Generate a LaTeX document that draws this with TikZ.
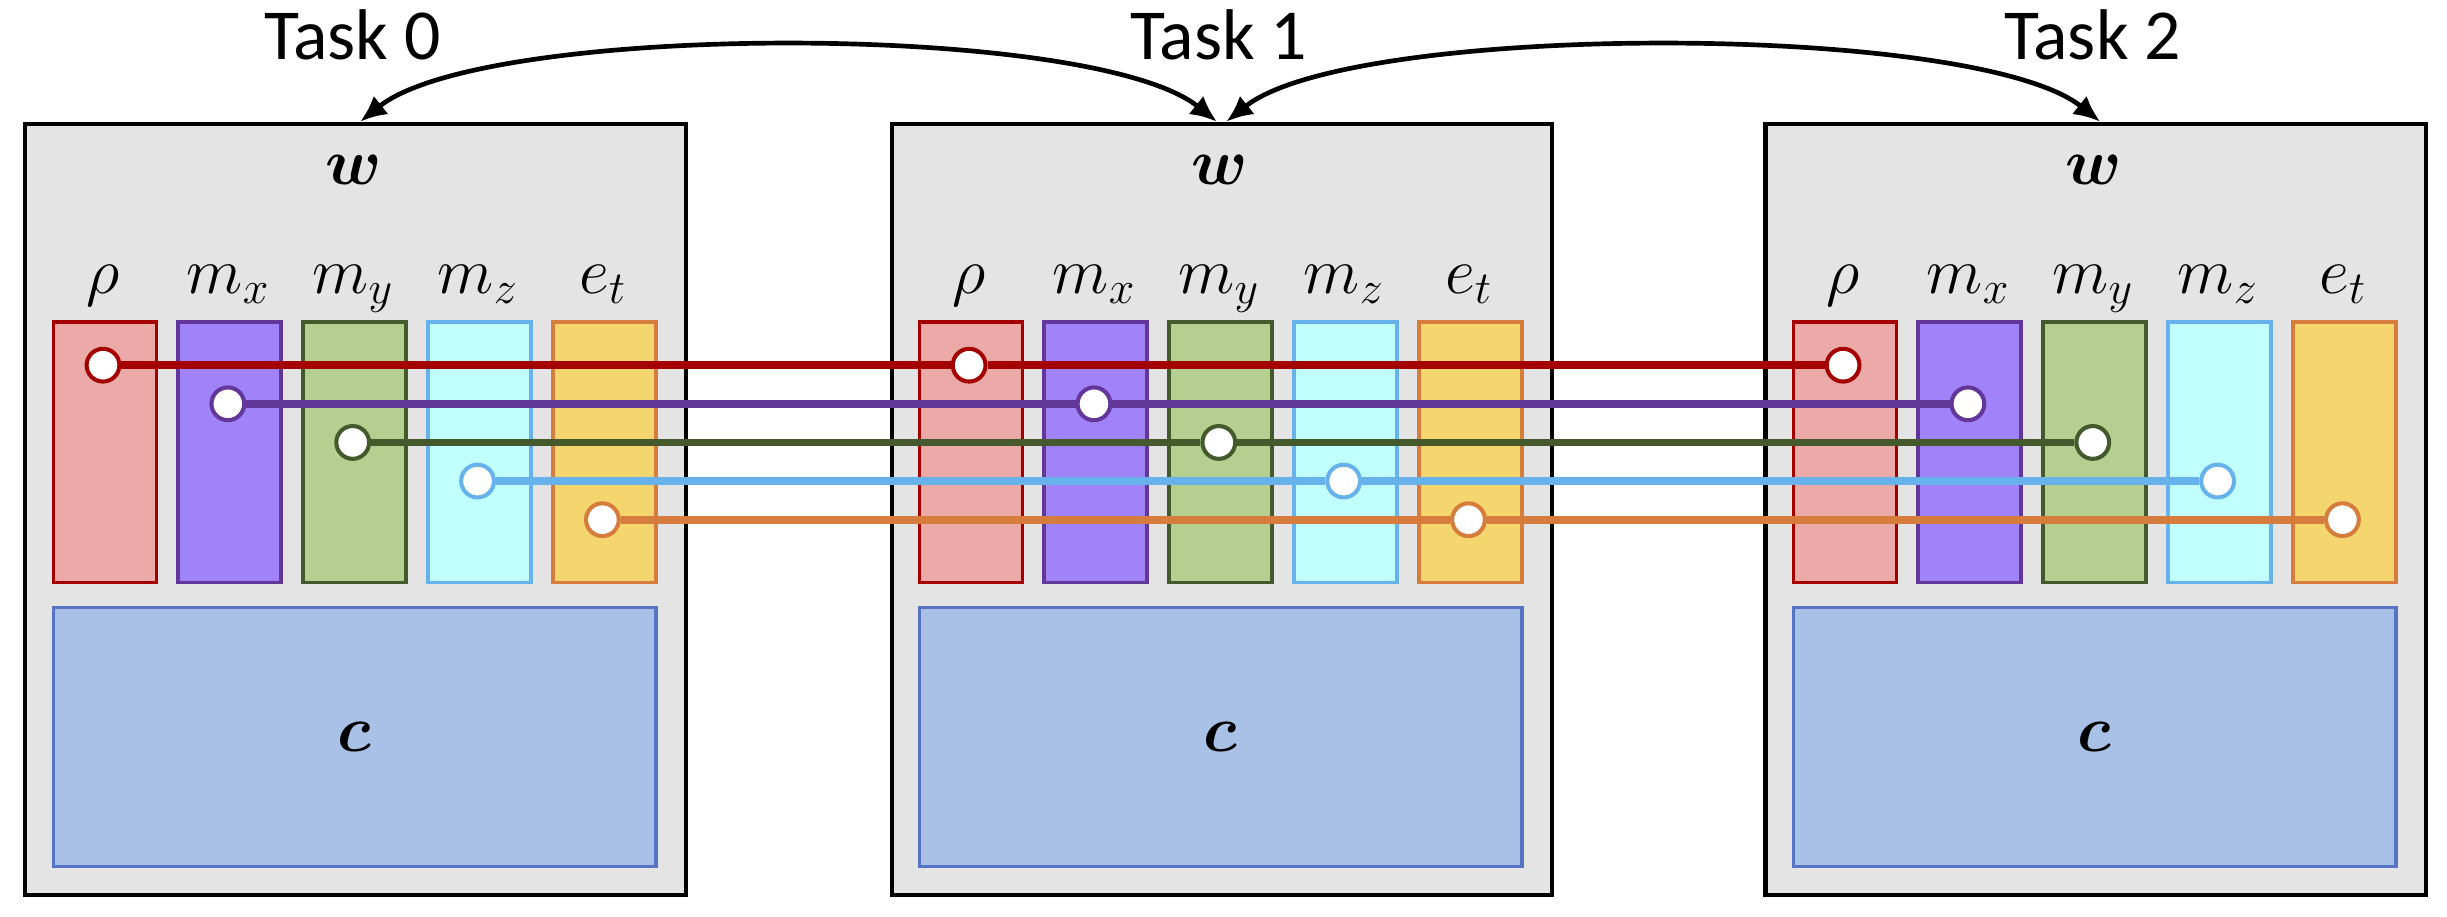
\RequirePackage{fix-cm}
\documentclass[tikz,border=0pt]{standalone}
\usepackage{amsmath,bm}
\usepackage{fontspec}
\setmainfont{Carlito}
\usetikzlibrary{arrows.meta}
\definecolor{boxgray}{HTML}{E4E4E4}
\definecolor{rfill}{HTML}{EBAAA8}\definecolor{rdraw}{HTML}{A50000}
\definecolor{xfill}{HTML}{A082F9}\definecolor{xdraw}{HTML}{63379A}
\definecolor{yfill}{HTML}{B4CF8F}\definecolor{ydraw}{HTML}{445A2C}
\definecolor{zfill}{HTML}{C1FFFF}\definecolor{zdraw}{HTML}{68B2EC}
\definecolor{efill}{HTML}{F5D66E}\definecolor{edraw}{HTML}{D67C3C}
\definecolor{cfill}{HTML}{A9C1E6}\definecolor{cdraw}{HTML}{5674C4}
\newcommand\taskfont{\fontsize{46}{55}\selectfont}
\newcommand\symfont{\fontsize{42}{50}\selectfont}
\begin{document}
\begin{tikzpicture}[x=1pt,y=-1pt,
  taskbox/.style={draw=black,line width=2.6pt,fill=boxgray,minimum width=423pt,minimum height=494pt,inner sep=0pt,anchor=north west},
  colbox/.style={line width=2.4pt,minimum width=66pt,minimum height=167pt,inner sep=0pt,anchor=north west},
  cbox/.style={draw=cdraw,fill=cfill,line width=2.4pt,minimum width=386pt,minimum height=166pt,inner sep=0pt,anchor=north west},
  dot/.style={circle,fill=white,line width=2.6pt,minimum size=21pt,inner sep=0pt},
  conn/.style={line width=5pt},
  tasklabel/.style={font=\taskfont,anchor=base,inner sep=0pt},
  symlabel/.style={font=\symfont,anchor=base,inner sep=0pt},
  taskarrow/.style={line width=3pt,{Latex[length=17pt,width=15pt]}-{Latex[length=17pt,width=15pt]}}
]
\useasboundingbox (0,0) rectangle (1568,587);
\foreach \t/\dx in {0/0,1/555,2/1115}{
  \node[taskbox] (box\t) at (15+\dx,78) {};
  \node[tasklabel] (task\t) at (226+\dx,38) {Task \t};
  \node[symlabel] (w\t) at (226.5+\dx,118) {$\bm{w}$};
  \foreach \n/\i/\lab/\fc/\dc in {r/0/\rho/rfill/rdraw, x/1/m_x/xfill/xdraw, y/2/m_y/yfill/ydraw, z/3/m_z/zfill/zdraw, e/4/e_t/efill/edraw}{
    \node[colbox,draw=\dc,fill=\fc] (col\n\t) at (33+80*\i+\dx,205) {};
    \node[symlabel] (lab\n\t) at (66+80*\i+\dx,188) {$\lab$};
    \node[dot,draw=\dc] (\n\t) at (66+80*\i+\dx,234+24.75*\i) {};
  }
  \node[cbox] (c\t) at (33+\dx,388) {};
  \node[symlabel] at (c\t.center) [anchor=center] {$\bm{c}$};
}
\foreach \n/\dc in {r/rdraw,x/xdraw,y/ydraw,z/zdraw,e/edraw}{
  \draw[conn,draw=\dc] (\n0) -- (\n1);
  \draw[conn,draw=\dc] (\n1) -- (\n2);
}
\coordinate (a0) at ([xshift=3pt]box0.north);
\coordinate (a1l) at ([xshift=-3pt]box1.north);
\coordinate (a1r) at ([xshift=3pt]box1.north);
\coordinate (a2) at ([xshift=3pt]box2.north);
\draw[taskarrow] (a0) .. controls ([xshift=80pt,yshift=64pt]a0) and ([xshift=-80pt,yshift=64pt]a1l) .. (a1l);
\draw[taskarrow] (a1r) .. controls ([xshift=80pt,yshift=64pt]a1r) and ([xshift=-80pt,yshift=64pt]a2) .. (a2);
\end{tikzpicture}
\end{document}
